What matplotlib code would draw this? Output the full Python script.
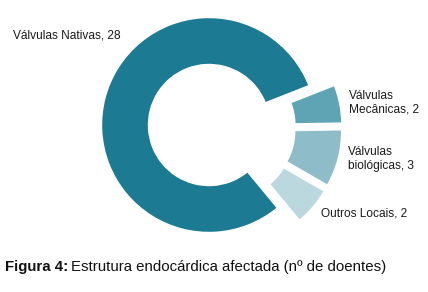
import numpy as np
import matplotlib
matplotlib.use("Agg")
import matplotlib.pyplot as plt

# ------------------------------------
# Data
# ------------------------------------
categories = ["Válvulas Nativas", "Válvulas\nMecânicas", "Válvulas\nbiológicas", "Outros Locais"]
counts = [28, 2, 3, 2]
colors = ["#1c7b93", "#5ea4b4", "#8ebdc9", "#bbd8df"]

caption_bold = "Figura 4:"
caption_text = "Estrutura endocárdica afectada (nº de doentes)"

# ------------------------------------
# Layout (pixel units, y measured from top)
# ------------------------------------
W, H = 428, 292
CX, CY = 209, 125          # centre of the doughnut
RADIUS = 107.5
RING = 47
EXPLODE = 15               # per-slice offset of the small slices
GROUP_SHIFT = 11           # extra offset of the small group as a whole

plt.rcParams["font.family"] = ["Liberation Sans", "DejaVu Sans"]

fig = plt.figure(figsize=(W / 100, H / 100), dpi=100)
ax = fig.add_axes([0, 0, 1, 1])

explode = [0] + [EXPLODE] * (len(counts) - 1)
wedges, _ = ax.pie(counts, colors=colors, startangle=-50.5, counterclock=False,
                   radius=RADIUS, center=(CX, H - CY), explode=explode,
                   wedgeprops=dict(width=RING, edgecolor="white", linewidth=1))

# push the small slices out together, along the middle of their group
lo = min(w.theta1 for w in wedges[1:])
hi = max(w.theta2 for w in wedges[1:])
mid = np.deg2rad((lo + hi) / 2)
for w in wedges[1:]:
    x, y = w.center
    w.set_center((x + GROUP_SHIFT * np.cos(mid), y + GROUP_SHIFT * np.sin(mid)))

ax.set_xlim(0, W)
ax.set_ylim(0, H)
ax.set_aspect("equal")
ax.axis("off")

# ------------------------------------
# Labels
# ------------------------------------
label_pos = [(13, 35), (349, 103), (348, 159), (321, 213)]
for name, n, (lx, ly) in zip(categories, counts, label_pos):
    ax.text(lx, H - ly, f"{name}, {n}", fontsize=8.6, color="#1a1a1a",
            ha="left", va="center", linespacing=1.2)

# caption: bold part + regular part
t1 = fig.text(5 / W, 1 - 267 / H, caption_bold, fontsize=10.8, fontweight="bold",
              ha="left", va="center", color="#111111")
fig.canvas.draw()
bb = t1.get_window_extent(fig.canvas.get_renderer())
fig.text((bb.x1 + 3) / W, 1 - 267 / H, caption_text, fontsize=10.8,
         ha="left", va="center", color="#111111")

fig.savefig("out.png", dpi=100)
